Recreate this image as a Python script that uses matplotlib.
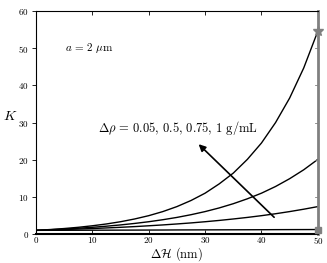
import numpy as np
import matplotlib
matplotlib.use("Agg")
import matplotlib.pyplot as plt

plt.rcParams['font.family'] = 'serif'
plt.rcParams['font.serif'] = ['cmr10']
plt.rcParams['mathtext.fontset'] = 'cm'
plt.rcParams['axes.formatter.use_mathtext'] = True

# gap size (nm) and K for each density difference
dH = [0, 2.5, 5, 7.5, 10, 12.5, 15, 17.5, 20, 22.5, 25,
      27.5, 30, 32.5, 35, 37.5, 40, 42.5, 45, 47.5, 50]
K_005 = [1.0, 1.01, 1.02, 1.03, 1.04, 1.05, 1.06, 1.07, 1.08, 1.09, 1.11,
         1.12, 1.13, 1.14, 1.15, 1.16, 1.17, 1.19, 1.20, 1.21, 1.22]
K_05 = [1.0, 1.11, 1.22, 1.35, 1.49, 1.65, 1.82, 2.01, 2.23, 2.46, 2.72,
        3.00, 3.32, 3.67, 4.06, 4.48, 4.95, 5.47, 6.05, 6.69, 7.39]
K_075 = [1.0, 1.16, 1.35, 1.57, 1.82, 2.12, 2.46, 2.86, 3.32, 3.86, 4.48,
         5.21, 6.05, 7.03, 8.17, 9.49, 11.0, 12.8, 14.9, 17.3, 20.1]
K_1 = [1.0, 1.22, 1.49, 1.82, 2.23, 2.72, 3.32, 4.06, 4.95, 6.05, 7.39,
       9.03, 11.0, 13.5, 16.4, 20.1, 24.5, 30.0, 36.6, 44.7, 54.6]

fig = plt.figure(figsize=(3.27, 2.63), dpi=100)
ax = fig.add_axes([0.110, 0.110, 0.862, 0.848])

for K in [K_005, K_05, K_075, K_1]:
    ax.plot(dH, K, color='black', lw=1.0)

ax.plot(dH[-1], K_1[-1], marker='*', color='gray', ms=7, clip_on=False, zorder=5)
ax.plot(dH[-1], K_005[-1], marker='s', color='gray', ms=4, clip_on=False, zorder=5)

ax.set_xlim(0, 50)
ax.set_ylim(0, 60)
ax.set_xticks([0, 10, 20, 30, 40, 50])
ax.set_yticks([0, 10, 20, 30, 40, 50, 60])
ax.tick_params(labelsize=6.5, length=3, width=0.6)
ax.tick_params(axis='x', direction='in', top=True, pad=1)
ax.tick_params(axis='y', direction='out', pad=2)
ax.tick_params(axis='y', which='both', right=False)
ax.spines['right'].set_color('gray')
ax.spines['right'].set_linewidth(2.0)
for s in ['left', 'top']:
    ax.spines[s].set_linewidth(0.8)
ax.spines['bottom'].set_linewidth(1.5)
# inward ticks on right side
for y in [10, 20, 30, 40, 50]:
    ax.plot([49.5, 50], [y, y], color='gray', lw=0.6, clip_on=False)

ax.set_xlabel(r'$\Delta\mathcal{H}$ (nm)', fontsize=9, va='center')
ax.xaxis.set_label_coords(0.5, -0.092)
ax.set_ylabel(r'$K$', fontsize=10, rotation=0, labelpad=12)
ax.yaxis.set_label_coords(-0.09, 0.5)

ax.text(5.1, 50, r'$a\,=\,2\ \mu$m', fontsize=8, va='center')
ax.text(11, 28.5, r'$\mathit{\Delta\rho}\,=\,0.05,\,0.5,\,0.75,\,1$ g/mL', fontsize=9, va='center')
ax.annotate('', xy=(28.5, 24.7), xytext=(42.6, 4.0),
            arrowprops=dict(arrowstyle='-|>', color='black', lw=1.2, mutation_scale=10))

fig.savefig('out.png', dpi=100)
